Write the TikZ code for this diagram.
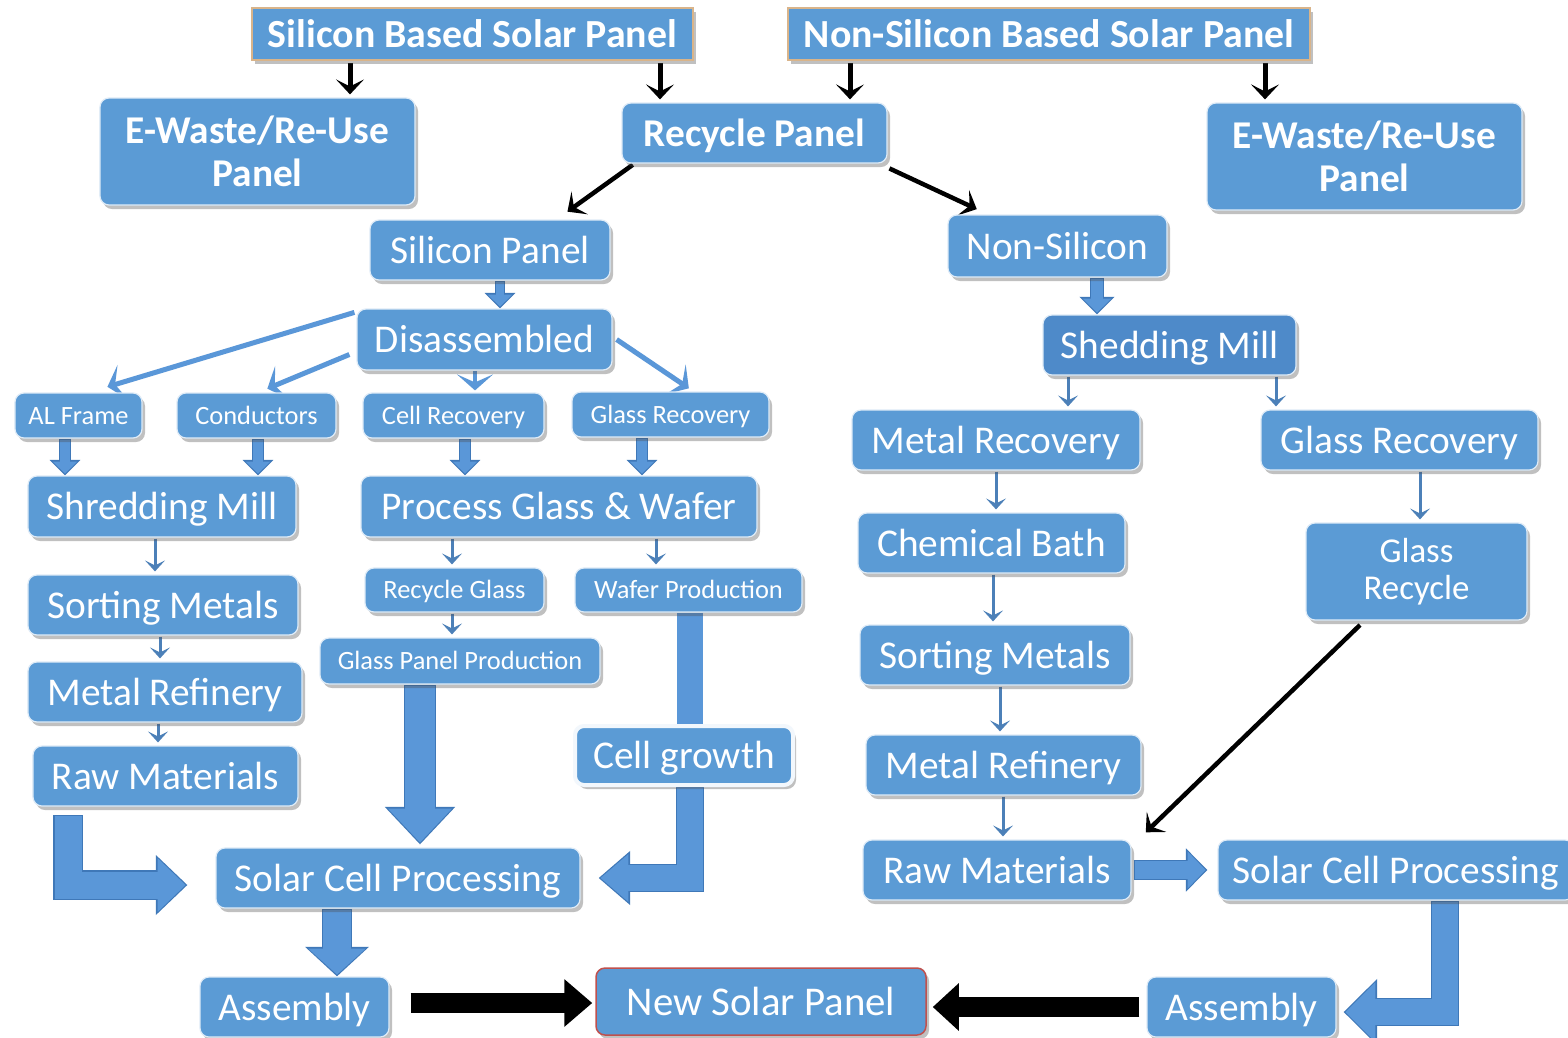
\documentclass[tikz,border=0pt]{standalone}
\usepackage{fontspec}
\setmainfont{Carlito}
\usetikzlibrary{arrows.meta,shadows,calc}
\definecolor{boxblue}{HTML}{5B9BD5}
\definecolor{shedblue}{HTML}{4E8AC9}
\definecolor{arrowblue}{HTML}{5A97D8}
\definecolor{arrowedge}{HTML}{3F78B8}
\definecolor{mytan}{HTML}{D9B48A}
\definecolor{myred}{HTML}{C0504D}
\pgfdeclarelayer{background}
\pgfsetlayers{background,main}
\newcommand\blockarrow[4]{%
  \pgfmathsetmacro\baSo{#1+2.4}%
  \pgfmathsetmacro\baWo{#2+6}%
  \pgfmathsetmacro\baLo{#3+3.5}%
  \draw[draw=arrowedge, line width=\baSo bp, line join=miter,
        -{Triangle[width=\baWo bp, length=\baLo bp, fill=arrowedge]}] #4;
  \draw[draw=arrowblue, line width=#1bp, line join=miter, shorten >=1.8bp, shorten <=1.2bp,
        -{Triangle[width=#2bp, length=#3bp, fill=arrowblue]}] #4;
}
\tikzset{
  box/.style={rounded corners=9bp, fill=boxblue, draw=white!80!boxblue, line width=1.2bp,
    text=white, align=center, inner sep=0pt,
    drop shadow={shadow xshift=3bp, shadow yshift=-4bp, opacity=0.35, fill=black!70},
    font=\fontsize{39.5}{43}\selectfont},
  one/.style={text height=26.5bp, text depth=0pt},
  onesmall/.style={text height=17.8bp, text depth=0pt},
  smallbox/.style={box, onesmall, font=\fontsize{26.5}{30}\selectfont},
  boldbox/.style={box, font=\bfseries\fontsize{39.5}{43}\selectfont},
  topbox/.style={box, one, rounded corners=0pt, draw=mytan, line width=1.5bp,
    font=\bfseries\fontsize{40}{44}\selectfont},
  blkarrow/.style={draw=black, line width=5bp, shorten <=2bp, shorten >=3bp,
    -{Stealth[length=15bp,width=28bp,inset=7bp]}},
  thinblue/.style={draw=arrowblue!85!black, line width=3bp, shorten <=1bp, shorten >=3bp,
    -{Stealth[length=11bp,width=20bp,inset=5bp]}},
  diagblue/.style={draw=arrowblue, line width=5bp, shorten >=2bp,
    -{Stealth[length=16bp,width=36bp,inset=8bp]}},
}
\begin{document}
\begin{tikzpicture}[x=1bp,y=-1bp]
\useasboundingbox (0,0) rectangle (1568,1037);

% top row
\node[topbox, minimum width=441bp, minimum height=52bp] (topL) at (472.5,34) {Silicon Based Solar Panel};
\node[topbox, minimum width=522bp, minimum height=52bp] (topR) at (1049,34) {Non-Silicon Based Solar Panel};
\node[boldbox, minimum width=315bp, minimum height=107bp] (ewL) at (257.5,151.5) {E-Waste/Re-Use\\Panel};
\node[boldbox, one, minimum width=265bp, minimum height=60bp] (recycle) at (754.5,133) {Recycle Panel};
\node[boldbox, minimum width=315bp, minimum height=107bp] (ewR) at (1364.5,156.5) {E-Waste/Re-Use\\Panel};

% silicon branch
\node[box, one, minimum width=240bp, minimum height=60bp] (silp) at (490,250) {Silicon Panel};
\node[box, one, minimum width=255bp, minimum height=61bp] (disas) at (484.5,339.5) {Disassembled};
\node[smallbox, minimum width=127bp, minimum height=45bp] (alf) at (78.5,415.5) {AL Frame};
\node[smallbox, minimum width=159bp, minimum height=45bp] (cond) at (256.5,415.5) {Conductors};
\node[smallbox, minimum width=181bp, minimum height=45bp] (cellrec) at (453.5,415.5) {Cell Recovery};
\node[smallbox, minimum width=197bp, minimum height=45bp] (glrecL) at (670.5,414.5) {Glass Recovery};
\node[box, one, minimum width=268bp, minimum height=61bp] (shredL) at (162,506.5) {Shredding Mill};
\node[box, one, minimum width=396bp, minimum height=61bp] (pgw) at (559,506.5) {Process Glass \& Wafer};
\node[box, one, minimum width=270bp, minimum height=60bp] (sortL) at (163,605) {Sorting Metals};
\node[smallbox, minimum width=179bp, minimum height=44bp] (recgl) at (454.5,590) {Recycle Glass};
\node[smallbox, minimum width=227bp, minimum height=44bp] (wafer) at (688.5,590) {Wafer Production};
\node[smallbox, minimum width=280bp, minimum height=46bp] (gpp) at (460,661) {Glass Panel Production};
\node[box, one, minimum width=274bp, minimum height=60bp] (refL) at (165,692) {Metal Refinery};
\node[box, one, minimum width=265bp, minimum height=60bp] (rawL) at (165.5,776) {Raw Materials};
\node[box, one, draw=white!92!boxblue, line width=4bp, minimum width=218bp, minimum height=59bp] (cellg) at (684,755.5) {Cell growth};
\node[box, one, minimum width=364bp, minimum height=60bp] (scpL) at (398,878) {Solar Cell Processing};
\node[box, one, minimum width=189bp, minimum height=60bp] (asmL) at (294.5,1007) {Assembly};
\node[box, draw=myred, line width=1.5bp, minimum width=330bp, minimum height=67bp, text height=27.5bp, text depth=0pt, font=\fontsize{41}{44}\selectfont] (nsp) at (761,1001.5) {New Solar Panel};

% non-silicon branch
\node[box, one, minimum width=219bp, minimum height=62bp] (nonsil) at (1057.5,246) {Non-Silicon};
\node[box, one, fill=shedblue, minimum width=253bp, minimum height=60bp] (shed) at (1169.5,345) {Shedding Mill};
\node[box, one, minimum width=288bp, minimum height=60bp] (metrec) at (996,440) {Metal Recovery};
\node[box, one, minimum width=277bp, minimum height=60bp] (glrecR) at (1399.5,440) {Glass Recovery};
\node[box, one, minimum width=267bp, minimum height=60bp] (chem) at (991.5,543) {Chemical Bath};
\node[box, minimum width=221bp, minimum height=97bp, font=\fontsize{35}{37}\selectfont] (glrecy) at (1416.5,571.5) {Glass\\Recycle};
\node[box, one, minimum width=270bp, minimum height=60bp] (sortR) at (995,655) {Sorting Metals};
\node[box, one, minimum width=275bp, minimum height=60bp] (refR) at (1003.5,765) {Metal Refinery};
\node[box, one, minimum width=268bp, minimum height=60bp] (rawR) at (997,870) {Raw Materials};
\node[box, one, minimum width=356bp, minimum height=60bp] (scpR) at (1396,870) {Solar Cell Processing};
\node[box, one, minimum width=189bp, minimum height=60bp] (asmR) at (1241.5,1007) {Assembly};

\coordinate (rawLout) at (68,815);
\coordinate (glrecyout) at (1360,625);

\begin{pgfonlayer}{background}
\fill[white] (0,0) rectangle (1568,1037);
% black arrows
\draw[blkarrow] (350,0 |- topL.south) -- (350,0 |- ewL.north);
\draw[blkarrow] (660,0 |- topL.south) -- (660,0 |- recycle.north);
\draw[blkarrow] (850,0 |- topR.south) -- (850,0 |- recycle.north);
\draw[blkarrow] (1265,0 |- topR.south) -- (1265,0 |- ewR.north);
\draw[blkarrow, line width=4.5bp] ([xshift=13bp]recycle.south west) -- ([xshift=75bp,yshift=6bp]silp.north);
\draw[blkarrow, line width=4.5bp] ([yshift=-4bp]recycle.south east) -- ([xshift=-78bp,yshift=4bp]nonsil.north);
\draw[blkarrow, line width=4.5bp, shorten <=0bp] (glrecyout) -- ([xshift=12bp,yshift=5bp]rawR.north east);

% silicon branch
\blockarrow{8}{24}{12}{(500,0 |- silp.south) -- (500,0 |- disas.north)}
\draw[diagblue] ([xshift=-2bp,yshift=-4bp]disas.north west) -- ([xshift=27bp,yshift=5bp]alf.north);
\draw[diagblue] ([xshift=-7bp,yshift=-15bp]disas.west) -- ([xshift=9bp,yshift=3bp]cond.north);
\draw[diagblue, line width=4bp] (475,0 |- disas.south) -- (475,0 |- cellrec.north);
\draw[diagblue] ([xshift=4bp]disas.east) -- ([xshift=20bp,yshift=2bp]glrecL.north);
\blockarrow{10}{24}{12}{(65,0 |- alf.south) -- (65,0 |- shredL.north)}
\blockarrow{10}{24}{12}{(258,0 |- cond.south) -- (258,0 |- shredL.north)}
\blockarrow{10}{24}{12}{(465,0 |- cellrec.south) -- (465,0 |- pgw.north)}
\blockarrow{10}{24}{12}{(642,0 |- glrecL.south) -- (642,0 |- pgw.north)}
\draw[thinblue] (155,0 |- shredL.south) -- (155,0 |- sortL.north);
\draw[thinblue] (160,0 |- sortL.south) -- (160,0 |- refL.north);
\draw[thinblue] (158,0 |- refL.south) -- (158,0 |- rawL.north);
\draw[thinblue] (452,0 |- pgw.south) -- (452,0 |- recgl.north);
\draw[thinblue] (656,0 |- pgw.south) -- (656,0 |- wafer.north);
\draw[thinblue] (452,0 |- recgl.south) -- (452,0 |- gpp.north);
\draw[draw=arrowblue, line width=26bp] (690,0 |- wafer.south) -- (690,0 |- cellg.north);
\blockarrow{26}{46}{28}{(690,0 |- cellg.south) |- ([xshift=18bp]scpL.east)}
\blockarrow{30}{62}{34}{(420,0 |- gpp.south) -- ([yshift=3bp]420,0 |- scpL.north)}
\blockarrow{27}{52}{28}{(rawLout) |- ([xshift=-28bp,yshift=-7bp]scpL.west)}
\blockarrow{28}{56}{26}{(337,0 |- scpL.south) -- (337,0 |- asmL.north)}
\draw[line width=20bp, -{Triangle[width=46bp,length=28bp]}] ([xshift=21bp,yshift=4bp]asmL.east) -- ([xshift=-3bp,yshift=4bp]asmL.east -| nsp.west);
\draw[line width=20bp, -{Triangle[width=46bp,length=26bp]}] ([xshift=-7bp]asmR.west) -- ($(asmR.west -| nsp.east)+(6,0)$);

% non-silicon branch
\blockarrow{12}{28}{14}{(1097,0 |- nonsil.south) -- (1097,0 |- shed.north)}
\draw[thinblue] (1068,0 |- shed.south) -- (1068,0 |- metrec.north);
\draw[thinblue] (1276,0 |- shed.south) -- (1276,0 |- glrecR.north);
\draw[thinblue] (996,0 |- metrec.south) -- (996,0 |- chem.north);
\draw[thinblue] (993,0 |- chem.south) -- (993,0 |- sortR.north);
\draw[thinblue] (1000,0 |- sortR.south) -- (1000,0 |- refR.north);
\draw[thinblue] (1003,0 |- refR.south) -- (1003,0 |- rawR.north);
\draw[thinblue] (1420,0 |- glrecR.south) -- (1420,0 |- glrecy.north);
\blockarrow{18}{36}{18}{([xshift=2bp]rawR.east) -- ([xshift=-10bp]scpR.west)}
\blockarrow{26}{58}{30}{(1445,0 |- scpR.south) |- ([xshift=7bp,yshift=-5bp]asmR.east)}
\end{pgfonlayer}
\end{tikzpicture}
\end{document}
